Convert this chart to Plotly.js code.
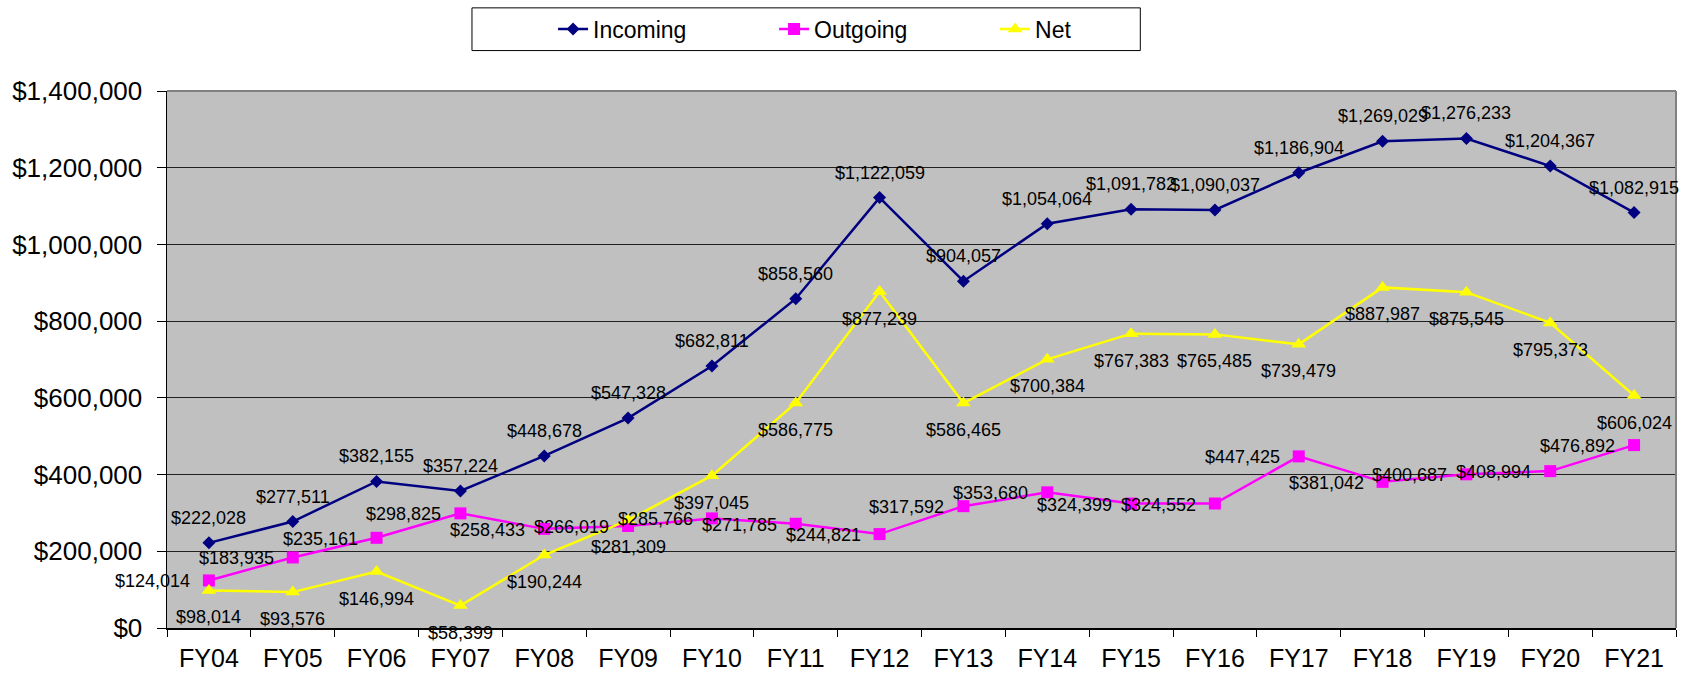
<!DOCTYPE html>
<html>
<head>
<meta charset="utf-8">
<script src="https://cdn.plot.ly/plotly-3.0.1.min.js"></script>
<style>
  html, body { margin: 0; padding: 0; background: #ffffff; }
  #chart { width: 1697px; height: 676px; }
</style>
</head>
<body>
<div id="chart"></div>
<script>
var categories = ["FY04","FY05","FY06","FY07","FY08","FY09","FY10","FY11","FY12","FY13","FY14","FY15","FY16","FY17","FY18","FY19","FY20","FY21"];
var incoming = [222028, 277511, 382155, 357224, 448678, 547328, 682811, 858560, 1122059, 904057, 1054064, 1091782, 1090037, 1186904, 1269029, 1276233, 1204367, 1082915];
var outgoing = [124014, 183935, 235161, 298825, 258433, 266019, 285766, 271785, 244821, 317592, 353680, 324399, 324552, 447425, 381042, 400687, 408994, 476892];
var net = [98014, 93576, 146994, 58399, 190244, 281309, 397045, 586775, 877239, 586465, 700384, 767383, 765485, 739479, 887987, 875545, 795373, 606024];
var yTickVals = [0, 200000, 400000, 600000, 800000, 1000000, 1200000, 1400000];
var yTickText = ["$0", "$200,000", "$400,000", "$600,000", "$800,000", "$1,000,000", "$1,200,000", "$1,400,000"];

var FONT = "Arial, 'Liberation Sans', sans-serif";
function money(v) { return "$" + v.toLocaleString("en-US"); }

var traces = [
  { name: "Incoming", x: categories, y: incoming, type: "scatter", mode: "lines+markers",
    line: { color: "#000080", width: 2.5 }, marker: { symbol: "diamond", size: 10, color: "#000080" }, hoverinfo: "skip" },
  { name: "Outgoing", x: categories, y: outgoing, type: "scatter", mode: "lines+markers",
    line: { color: "#FF00FF", width: 2.5 }, marker: { symbol: "square", size: 12, color: "#FF00FF" }, hoverinfo: "skip" },
  { name: "Net", x: categories, y: net, type: "scatter", mode: "lines+markers",
    line: { color: "#FFFF00", width: 2.5 }, marker: { symbol: "triangle-up", size: 13, color: "#FFFF00" }, hoverinfo: "skip" }
];

var annotations = [];
function addLabels(values, opts) {
  for (var i = 0; i < categories.length; i++) {
    annotations.push({
      x: categories[i], y: values[i], xref: "x", yref: "y",
      text: money(values[i]), showarrow: false,
      font: { family: FONT, size: 18, color: "#000000" },
      xanchor: opts.xanchor, yanchor: "middle",
      xshift: opts.xshift, yshift: opts.yshift
    });
  }
}
addLabels(incoming, { xanchor: "center", xshift: 0, yshift: 25 });
addLabels(outgoing, { xanchor: "right", xshift: -17, yshift: -1 });
addLabels(net, { xanchor: "center", xshift: 0, yshift: -27 });

var layout = {
  width: 1697, height: 676,
  margin: { l: 167, r: 21, t: 91, b: 48, pad: 0 },
  paper_bgcolor: "#ffffff",
  plot_bgcolor: "#C0C0C0",
  font: { family: FONT, color: "#000000" },
  showlegend: true,
  legend: {
    orientation: "h", xref: "container", yref: "container",
    x: 0.3259, xanchor: "left", y: 0.957, yanchor: "middle",
    bgcolor: "rgba(0,0,0,0)", borderwidth: 0,
    font: { family: FONT, size: 23, color: "#000000" },
    entrywidth: 176, entrywidthmode: "pixels", traceorder: "normal"
  },
  xaxis: {
    type: "category", range: [-0.5, categories.length - 0.5], autorange: false,
    tickson: "boundaries", ticks: "outside", ticklen: 7, tickcolor: "#000000", tickwidth: 1,
    showline: true, linecolor: "#000000", linewidth: 1.5, showgrid: false, zeroline: false,
    tickfont: { family: FONT, size: 25, color: "#000000" }, ticklabelstandoff: 7, fixedrange: true
  },
  yaxis: {
    range: [0, 1400000], autorange: false, tickmode: "array", tickvals: yTickVals, ticktext: yTickText,
    ticks: "outside", ticklen: 9, tickcolor: "#000000", tickwidth: 1,
    showline: true, linecolor: "#000000", linewidth: 1.5,
    showgrid: true, gridcolor: "#202020", gridwidth: 1, zeroline: false,
    tickfont: { family: FONT, size: 26, color: "#000000" }, ticklabelstandoff: 9, fixedrange: true
  },
  shapes: [
    { type: "line", xref: "paper", yref: "paper", x0: 0, x1: 1, y0: 1, y1: 1, line: { color: "#808080", width: 2 } },
    { type: "line", xref: "paper", yref: "paper", x0: 1, x1: 1, y0: 0, y1: 1, line: { color: "#808080", width: 2 } },
    { type: "rect", xref: "paper", yref: "paper", x0: 0.2021, x1: 0.645, y0: 1.0753, y1: 1.1548,
      line: { color: "#000000", width: 1 }, fillcolor: "rgba(0,0,0,0)", layer: "below" }
  ],
  annotations: annotations,
  hovermode: false
};

Plotly.newPlot("chart", traces, layout, { displayModeBar: false, staticPlot: true });
</script>
</body>
</html>
